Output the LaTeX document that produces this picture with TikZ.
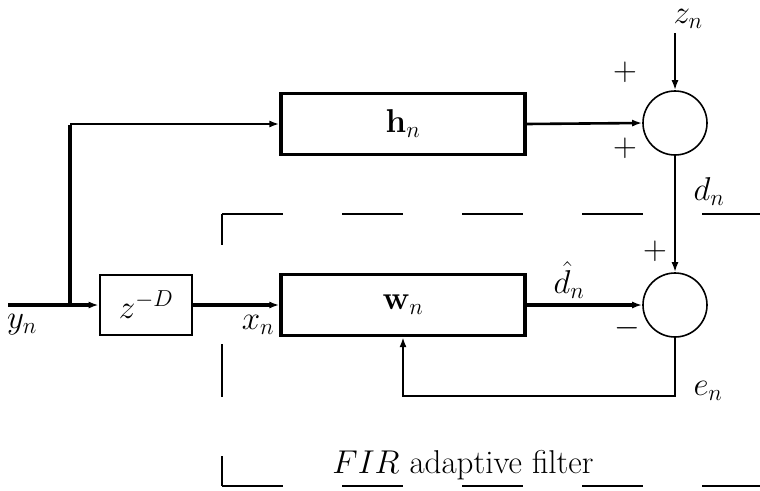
\RequirePackage{fix-cm}
\documentclass[tikz,border=0pt]{standalone}
\usetikzlibrary{arrows.meta}
\begin{document}
\begin{tikzpicture}[x=1pt,y=-1pt,
  every node/.style={font=\fontsize{33}{38}\selectfont},
  blockbox/.style={draw,line width=3.2pt,minimum width=244pt,minimum height=61pt,inner sep=0pt},
  smallbox/.style={draw,line width=2.6pt,minimum width=92pt,minimum height=60pt,inner sep=0pt},
  sumnode/.style={draw,circle,line width=1.6pt,minimum size=64pt,inner sep=0pt},
  thickline/.style={line width=3.4pt},
  thinline/.style={line width=2.6pt},
  arr/.style={-{Latex[length=10pt,width=7pt]}},
  fence/.style={line width=2.9pt},
  lbl/.style={inner sep=0pt}]
\useasboundingbox (0,0) rectangle (760,490);
% blocks
\node[smallbox] (zD) at (146,305) {$z^{-D}$};
\node[blockbox] (w) at (403,305) {$\mathbf{w}_n$};
\node[blockbox] (h) at (403,124) {$\mathbf{h}_n$};
\node[sumnode] (s1) at (675,123) {};
\node[sumnode] (s2) at (675,305) {};
\coordinate (yin) at (8,305);
\coordinate (br) at (70,305);
\coordinate (tc) at (70,124);
\coordinate (zn) at (675,33);
\coordinate (fb) at (403,396);
% connectors
\draw[thickline,arr] (yin) -- (zD.west);
\draw[thickline] (br) -- ([yshift=-1.3pt]tc);
\draw[thinline,arr] (tc) -- (h.west);
\draw[thickline,arr] (zD.east) -- (w.west);
\draw[thinline,arr] (h.east) -- (s1.west);
\draw[thinline,arr] (zn) -- (s1.north);
\draw[thinline,arr] (s1.south) -- (s2.north);
\draw[thickline,arr] (w.east) -- (s2.west);
\draw[thinline,arr] (s2.south) |- (fb) -- (w.south);
% labels
\node[lbl] (lzn) at (688,19) {$z_n$};
\node[lbl] (lp1) at (625,72) {$+$};
\node[lbl] (lp2) at (625,148) {$+$};
\node[lbl] (ldn) at (709,192) {$d_n$};
\node[lbl] (lp3) at (655,251) {$+$};
\node[lbl] (lmi) at (627,328) {$-$};
\node[lbl] (ldh) at (569,280) {$\hat{d}_n$};
\node[lbl] (len) at (708,391) {$e_n$};
\node[lbl] (lxn) at (258,325) {$x_n$};
\node[lbl] (lyn) at (22,325) {$y_n$};
\node[lbl] (lfir) at (463,465) {$FIR$ adaptive filter};
% dashed enclosure
\draw[fence,dash pattern=on 61pt off 59pt] (222,214) -- (760,214);
\draw[fence,dash pattern=on 61pt off 59pt] (222,486) -- (760,486);
\draw[fence] (222,214) -- (222,245);
\draw[fence] (222,344) -- (222,397);
\draw[fence] (222,456) -- (222,486);
\end{tikzpicture}
\end{document}
